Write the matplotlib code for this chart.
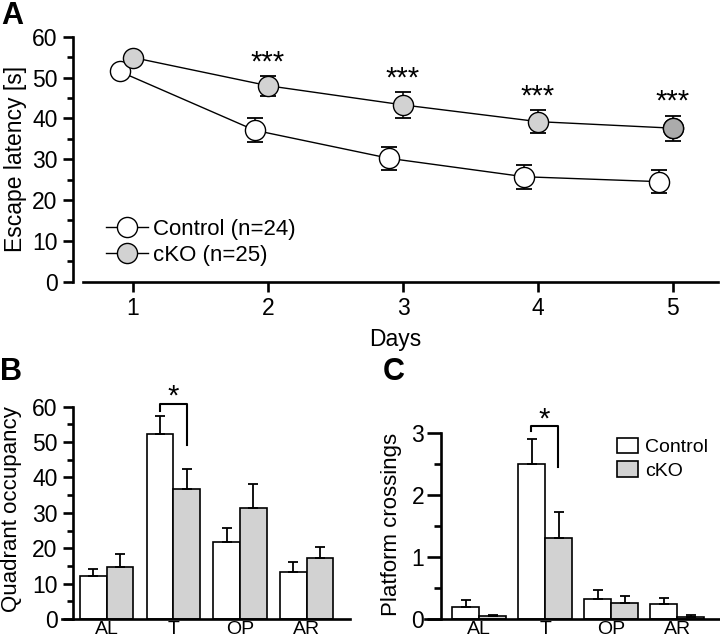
import numpy as np
import matplotlib
matplotlib.use("Agg")
import matplotlib.pyplot as plt
from matplotlib.ticker import MultipleLocator
from matplotlib.patches import Patch

plt.rcParams['font.family'] = ['Liberation Sans', 'DejaVu Sans']

# panel A - escape latency over days
days = [1, 2, 3, 4, 5]
ctrl_lat = [51.5, 37.1, 30.2, 25.7, 24.5]
ctrl_sem = [1.2, 3.0, 2.9, 2.9, 2.8]
cko_lat = [54.9, 48.0, 43.3, 39.2, 37.6]
cko_sem = [1.0, 2.4, 3.2, 2.8, 3.1]
sig_days = [2, 3, 4, 5]
sig_labels = ["***", "***", "***", "***"]

# panel B / C - probe trial
quadrants = ["AL", "T", "OP", "AR"]
occ_ctrl = [12.1, 52.4, 21.8, 13.4]
occ_ctrl_sem = [2.0, 5.0, 3.8, 2.7]
occ_cko = [14.7, 36.6, 31.4, 17.1]
occ_cko_sem = [3.6, 5.9, 6.7, 3.3]

cross_ctrl = [0.20, 2.50, 0.32, 0.25]
cross_ctrl_sem = [0.11, 0.41, 0.15, 0.10]
cross_cko = [0.05, 1.31, 0.27, 0.04]
cross_cko_sem = [0.02, 0.42, 0.10, 0.03]

GRAY = "#d2d2d2"
LW = 1.9

fig = plt.figure(figsize=(7.2, 6.44), dpi=100)

# ---------------- A ----------------
axA = fig.add_axes([0.101, 0.5626, 0.896, 0.3804])
ctrl_x = np.array(days) - 0.1
axA.errorbar(ctrl_x, ctrl_lat, yerr=ctrl_sem, fmt='none', ecolor='black',
             elinewidth=1.1, capsize=6, capthick=1.3, zorder=2)
axA.errorbar(days, cko_lat, yerr=cko_sem, fmt='none', ecolor='black',
             elinewidth=1.1, capsize=6, capthick=1.3, zorder=2)
lc, = axA.plot(ctrl_x, ctrl_lat, '-o', color='black', lw=1.0, ms=14.5,
               mfc='white', mec='black', mew=1.0, label="Control (n=24)", zorder=3)
lk, = axA.plot(days, cko_lat, '-o', color='black', lw=1.0, ms=14.5,
               mfc=GRAY, mec='black', mew=1.0, label="cKO (n=25)", zorder=4)
# last cKO point drawn darker
axA.plot(days[-1], cko_lat[-1], 'o', ms=14.5, mfc='#ababab', mec='black', mew=1.0, zorder=5)

for d, lab in zip(sig_days, sig_labels):
    i = days.index(d)
    axA.text(d, cko_lat[i] + cko_sem[i] + 1.4, lab, ha='center', va='baseline', fontsize=21)

axA.set_xlim(0.553, 5.333)
axA.set_ylim(0, 60)
axA.spines['top'].set_visible(False)
axA.spines['right'].set_visible(False)
axA.spines['left'].set_bounds(0, 60)
axA.spines['bottom'].set_bounds(0.63, 5.333)
for s in ['left', 'bottom']:
    axA.spines[s].set_linewidth(LW)
axA.set_xticks(days)
axA.yaxis.set_major_locator(MultipleLocator(10))
axA.yaxis.set_minor_locator(MultipleLocator(5))
axA.tick_params(axis='both', which='major', labelsize=16.5, width=LW, length=7, pad=4)
axA.tick_params(axis='y', which='minor', width=LW, length=4)
axA.set_xlabel("Days", fontsize=16.5, labelpad=6)
axA.set_ylabel("Escape latency [s]", fontsize=16.5)
axA.yaxis.set_label_coords(-0.071, 0.5)
axA.legend(handles=[lc, lk], loc='upper left', bbox_to_anchor=(0.051, 0.255),
           frameon=False, fontsize=16, handlelength=1.9, handletextpad=0.25,
           labelspacing=0.2, borderpad=0, borderaxespad=0)
fig.text(0.002, 0.975, "A", fontsize=22, fontweight='bold', va='center')


def bar_panel(ax, ctrl, ctrl_sem, cko, cko_sem, width, ymax):
    x = np.arange(len(quadrants))
    ax.bar(x - width / 2, ctrl, width, color='white', edgecolor='black', linewidth=1.2,
           yerr=[np.zeros(len(ctrl)), ctrl_sem],
           error_kw=dict(elinewidth=1.3, capsize=3.5, capthick=1.3, ecolor='black'),
           label="Control", zorder=2)
    ax.bar(x + width / 2, cko, width, color=GRAY, edgecolor='black', linewidth=1.2,
           yerr=[np.zeros(len(cko)), cko_sem],
           error_kw=dict(elinewidth=1.3, capsize=3.5, capthick=1.3, ecolor='black'),
           label="cKO", zorder=2)
    ax.set_xticks(x)
    ax.set_xticklabels(quadrants)
    ax.set_ylim(0, ymax)
    ax.spines['top'].set_visible(False)
    ax.spines['right'].set_visible(False)
    for s in ['left', 'bottom']:
        ax.spines[s].set_linewidth(LW)
    ax.tick_params(axis='x', length=0, labelsize=14, pad=1.5)
    ax.tick_params(axis='y', which='major', labelsize=16.5, width=LW, length=7, pad=4)
    ax.tick_params(axis='y', which='minor', width=LW, length=4)


def bracket(ax, x0, x1, ytop, yleft, yright, ystar):
    ax.plot([x0, x0, x1, x1], [yleft, ytop, ytop, yright], color='black', lw=1.5,
            clip_on=False)
    ax.text((x0 + x1) / 2, ystar, "*", ha='center', va='center', fontsize=21,
            clip_on=False)


# ---------------- B ----------------
axB = fig.add_axes([0.0861, 0.0388, 0.4, 0.3297])
bar_panel(axB, occ_ctrl, occ_ctrl_sem, occ_cko, occ_cko_sem, 0.4, 60)
axB.set_xlim(-0.67, 3.65)
axB.spines['left'].set_position(('data', -0.51))
axB.yaxis.set_major_locator(MultipleLocator(10))
axB.yaxis.set_minor_locator(MultipleLocator(5))
axB.set_ylabel("Quadrant occupancy", fontsize=16)
axB.yaxis.set_label_coords(-0.14, 0.52)
bracket(axB, 0.8, 1.2, 60.7, 58.8, 49.2, 62.8)
fig.text(0.0, 0.422, "B", fontsize=22, fontweight='bold', va='center')

# ---------------- C ----------------
axC = fig.add_axes([0.5903, 0.0384, 0.4097, 0.2888])
bar_panel(axC, cross_ctrl, cross_ctrl_sem, cross_cko, cross_cko_sem, 0.41, 3)
axC.set_xlim(-0.82, 3.65)
axC.spines['left'].set_position(('data', -0.58))
axC.yaxis.set_major_locator(MultipleLocator(1))
axC.yaxis.set_minor_locator(MultipleLocator(0.5))
axC.tick_params(axis='y', which='major', length=10, pad=2)
axC.tick_params(axis='y', which='minor', length=5)
axC.set_ylabel("Platform crossings", fontsize=16)
axC.yaxis.set_label_coords(-0.078, 0.51)
bracket(axC, 0.79, 1.19, 3.11, 3.03, 2.46, 3.22)
axC.legend(handles=[Patch(facecolor='white', edgecolor='black', linewidth=1.2),
                    Patch(facecolor=GRAY, edgecolor='black', linewidth=1.2)],
           labels=["Control", "cKO"], loc='upper left', bbox_to_anchor=(0.65, 0.975),
           frameon=False, fontsize=14, handlelength=1.07, handleheight=0.85,
           handletextpad=0.4, labelspacing=0.25, borderpad=0, borderaxespad=0)
fig.text(0.532, 0.422, "C", fontsize=22, fontweight='bold', va='center')

fig.savefig("out.png", dpi=100)
